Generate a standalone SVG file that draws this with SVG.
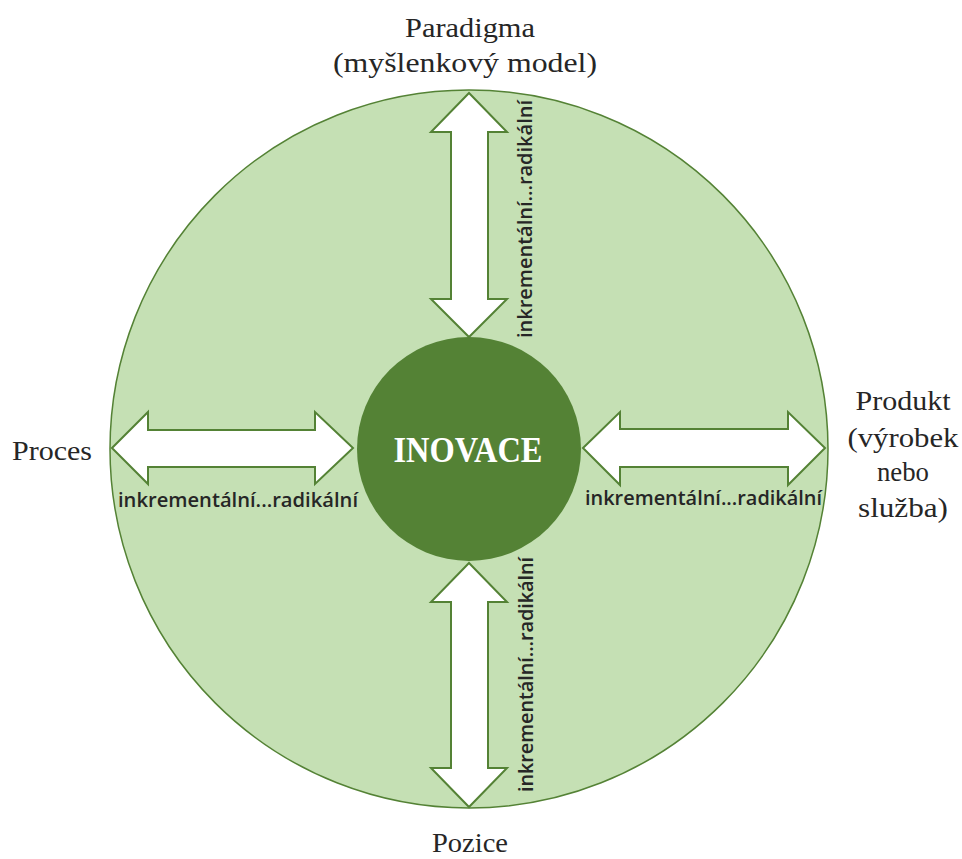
<svg xmlns="http://www.w3.org/2000/svg" width="962" height="859" viewBox="0 0 962 859">
  <style>
    .title { font-family: "Liberation Serif", "DejaVu Serif", serif; font-size: 28px; fill: #262626; text-anchor: middle; }
    .scale { font-family: "Open Sans", "Liberation Sans", sans-serif; font-size: 20px; font-weight: 600; fill: #262626; }
    .arrow { fill: #ffffff; stroke: #548235; stroke-width: 2; stroke-linejoin: miter; }
    .core-label { font-family: "Liberation Serif", "DejaVu Serif", serif; font-size: 36px; font-weight: bold; fill: #ffffff; text-anchor: middle; }
  </style>
  <rect width="962" height="859" fill="#ffffff"/>

  <!-- outer field -->
  <g id="field">
    <circle cx="469" cy="449" r="359" fill="#C5E0B4" stroke="#548235" stroke-width="1.5"/>
  </g>

  <!-- double-headed arrows -->
  <g id="connectors">
    <polygon class="arrow" points="469,93 431,132 451,132 451,299 431,299 469,337 507,299 488,299 488,132 507,132"/>
    <polygon class="arrow" points="469,563 431,602 451,602 451,768 431,768 469,807 507,768 488,768 488,602 507,602"/>
    <polygon class="arrow" points="112,448 148,412 148,430 315,430 315,412 353,448 315,484 315,467 148,467 148,484"/>
    <polygon class="arrow" points="583,448 620,412 620,429 788,429 788,412 825,448 788,485 788,467 620,467 620,485"/>
    <text class="scale" transform="translate(532,338) rotate(-90)" textLength="238" lengthAdjust="spacingAndGlyphs">inkrementální...radikální</text>
    <text class="scale" transform="translate(533,792) rotate(-90)" textLength="235" lengthAdjust="spacingAndGlyphs">inkrementální...radikální</text>
    <text class="scale" x="118" y="507" textLength="240" lengthAdjust="spacingAndGlyphs">inkrementální...radikální</text>
    <text class="scale" x="585" y="505" textLength="237" lengthAdjust="spacingAndGlyphs">inkrementální...radikální</text>
  </g>

  <!-- centre -->
  <g id="inovace">
    <circle cx="469" cy="449" r="112" fill="#548235"/>
    <text class="core-label" x="468" y="462" textLength="149" lengthAdjust="spacingAndGlyphs">INOVACE</text>
  </g>

  <g id="paradigma">
    <text class="title" x="470" y="37" textLength="130" lengthAdjust="spacingAndGlyphs">Paradigma</text>
    <text class="title" x="465" y="72" textLength="264" lengthAdjust="spacingAndGlyphs">(myšlenkový model)</text>
  </g>

  <g id="proces">
    <text class="title" x="52" y="460" textLength="80" lengthAdjust="spacingAndGlyphs">Proces</text>
  </g>

  <g id="produkt">
    <text class="title" x="903" y="410" textLength="95" lengthAdjust="spacingAndGlyphs">Produkt</text>
    <text class="title" x="903" y="447" textLength="111" lengthAdjust="spacingAndGlyphs">(výrobek</text>
    <text class="title" x="903" y="481" textLength="52" lengthAdjust="spacingAndGlyphs">nebo</text>
    <text class="title" x="903" y="517" textLength="90" lengthAdjust="spacingAndGlyphs">služba)</text>
  </g>

  <g id="pozice">
    <text class="title" x="470" y="852" textLength="76" lengthAdjust="spacingAndGlyphs">Pozice</text>
  </g>
</svg>
